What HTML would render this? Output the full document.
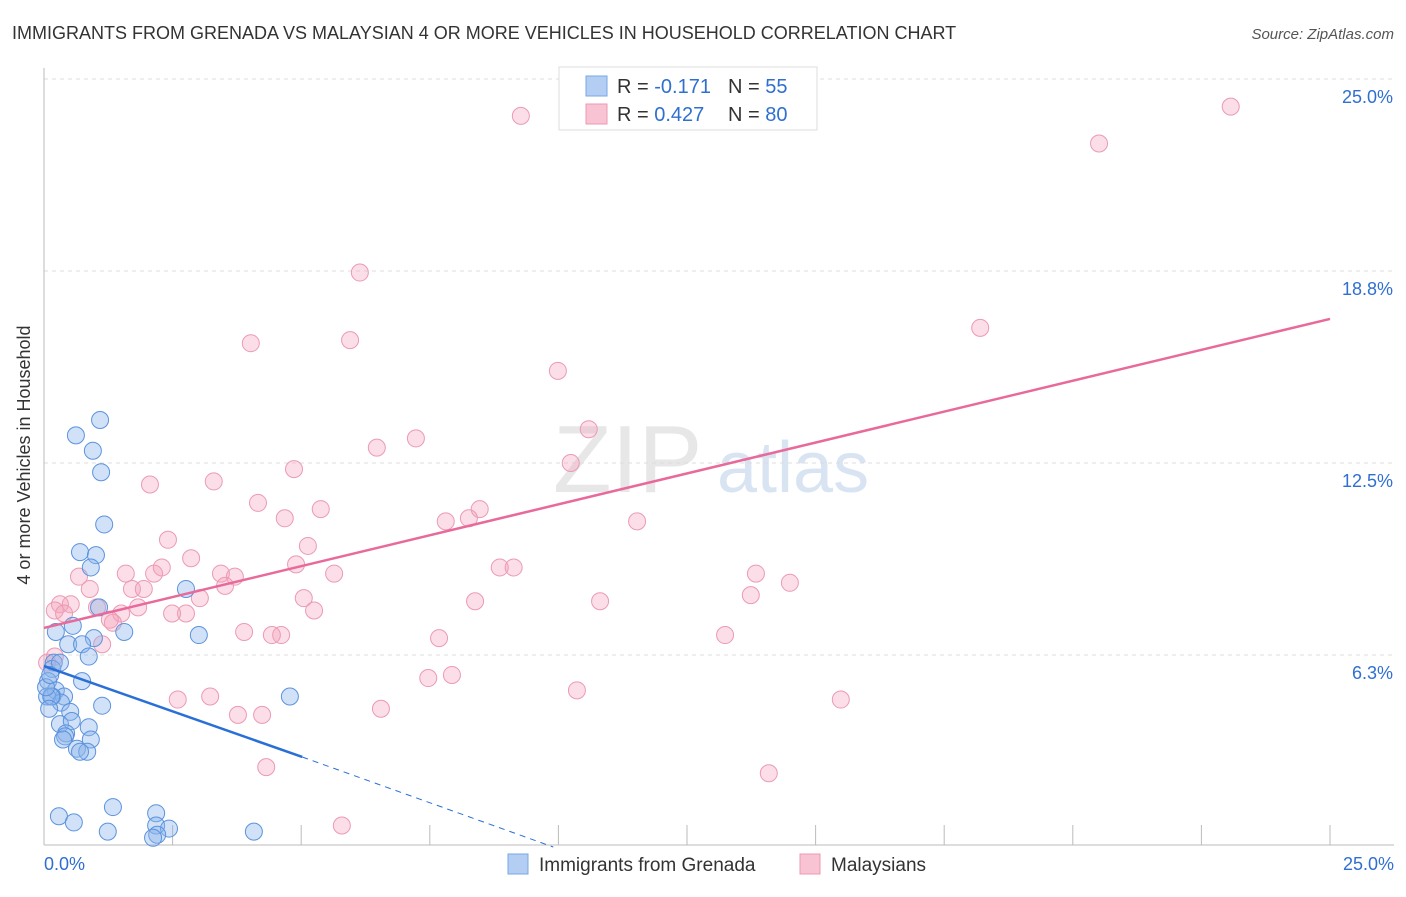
<!DOCTYPE html>
<html><head><meta charset="utf-8"><style>
body{margin:0;background:#fff;font-family:"Liberation Sans",sans-serif;}
svg text{font-family:"Liberation Sans",sans-serif;}
</style></head><body>
<svg id="c" width="1406" height="892">
<text x="12" y="39" font-size="18" fill="#333">IMMIGRANTS FROM GRENADA VS MALAYSIAN 4 OR MORE VEHICLES IN HOUSEHOLD CORRELATION CHART</text>
<text x="1394" y="39" font-size="15" fill="#555" font-style="italic" text-anchor="end">Source: ZipAtlas.com</text>
<text x="30" y="455" font-size="18" fill="#333" text-anchor="middle" transform="rotate(-90 30 455)">4 or more Vehicles in Household</text>
<g><text x="553" y="492" font-size="96" fill="#ddd" font-family="Liberation Serif" opacity="0.7">ZIP</text><text x="717" y="492" font-size="72" fill="#c9d9ee" opacity="0.7">atlas</text></g>
<g id="grid"></g><g id="marks"></g>
<g>
<rect x="559" y="67" width="258" height="63" fill="#fff" stroke="#ddd"/>
<rect x="586" y="76" width="21" height="20" fill="#b3cdf3" stroke="#7aa6e6"/>
<rect x="586" y="104" width="21" height="20" fill="#f8c3d3" stroke="#ee9ab3"/>
<text x="617" y="93" font-size="20" fill="#333">R = <tspan fill="#2f6fd0">-0.171</tspan></text>
<text x="728" y="93" font-size="20" fill="#333">N = <tspan fill="#2f6fd0">55</tspan></text>
<text x="617" y="121" font-size="20" fill="#333">R = <tspan fill="#2f6fd0">0.427</tspan></text>
<text x="728" y="121" font-size="20" fill="#333">N = <tspan fill="#2f6fd0">80</tspan></text>
</g>
<g>
<rect x="508" y="854" width="20" height="20" fill="#b3cdf3" stroke="#7aa6e6"/>
<text x="539" y="871" font-size="19" fill="#333">Immigrants from Grenada</text>
<rect x="800" y="854" width="20" height="20" fill="#f8c3d3" stroke="#ee9ab3"/>
<text x="831" y="871" font-size="19" fill="#333">Malaysians</text>
</g>
</svg>
<script>
const yTicks=[6.25,12.5,18.75,25];
const yTickLabels=["6.3%","12.5%","18.8%","25.0%"];
const xTicks=[2.5,5,7.5,10,12.5,15,17.5,20,22.5,25];
const blueX=[1.09,0.62,0.95,1.11,1.17,0.70,1.01,0.91,1.07,2.76,1.56,3.01,0.23,0.56,0.97,0.47,0.74,0.87,0.19,0.16,0.74,0.08,0.23,0.39,0.16,0.06,0.33,0.51,1.13,4.78,0.31,0.54,0.87,0.43,0.41,0.37,0.91,0.64,0.84,0.70,1.34,2.18,0.29,0.58,1.24,2.18,2.43,2.20,2.12,4.08,0.14,0.04,0.12,0.31,0.10];
const blueY=[13.9,13.4,12.9,12.2,10.5,9.6,9.5,9.1,7.8,8.4,7.0,6.9,7.0,7.2,6.8,6.6,6.6,6.2,6.0,5.8,5.4,5.4,5.1,4.9,4.9,4.9,4.7,4.4,4.6,4.9,4.0,4.1,3.9,3.7,3.6,3.5,3.5,3.2,3.1,3.1,1.3,1.1,1.0,0.8,0.5,0.7,0.6,0.4,0.3,0.5,4.9,5.2,5.6,6.0,4.5];
const pinkX=[9.27,23.07,20.51,6.14,18.20,4.02,5.95,9.99,7.23,6.47,10.59,10.24,4.86,3.30,2.06,4.16,5.38,4.68,8.47,8.26,7.81,11.53,2.41,5.13,2.86,4.90,8.86,9.13,1.59,2.14,2.29,3.44,5.64,3.71,13.84,14.50,0.68,0.89,1.71,3.52,1.94,3.03,5.05,8.38,10.81,13.74,0.31,0.52,1.03,1.83,1.50,5.25,2.76,2.49,0.21,0.39,1.34,3.89,4.61,4.43,7.68,13.24,1.13,0.21,2.60,3.23,7.47,7.93,10.36,15.49,6.55,3.77,4.24,4.32,14.09,5.79,1.28,0.06];
const pinkY=[23.8,24.1,22.9,18.7,16.9,16.4,16.5,15.5,13.3,13.0,13.6,12.5,12.3,11.9,11.8,11.2,11.0,10.7,11.0,10.7,10.6,10.6,10.0,9.8,9.4,9.2,9.1,9.1,8.9,8.9,9.1,8.9,8.9,8.8,8.9,8.6,8.8,8.4,8.4,8.5,8.4,8.1,8.1,8.0,8.0,8.2,7.9,7.9,7.8,7.8,7.6,7.7,7.6,7.6,7.7,7.6,7.3,7.0,6.9,6.9,6.8,6.9,6.6,6.2,4.8,4.9,5.5,5.6,5.1,4.8,4.5,4.3,4.3,2.6,2.4,0.7,7.4,6.0];
const blueLine=[0,5.89,5.02,2.93,9.9,0.0];
const pinkLine=[0,7.13,25,17.19];
const X0=44,X1=1330,Y0=847,Y1=79;
const sx=v=>X0+(v/25)*(X1-X0), sy=v=>Y0-(v/25)*(Y0-Y1);
const NS="http://www.w3.org/2000/svg";
function mk(t,a,p){const e=document.createElementNS(NS,t);for(const k in a)e.setAttribute(k,a[k]);p.appendChild(e);return e;}
const g=document.getElementById('grid'),m=document.getElementById('marks');
yTicks.forEach((t,i)=>{
 const l=mk('line',{x1:X0,x2:1394,y1:sy(t),y2:sy(t),stroke:'#ddd','stroke-dasharray':'4,4'},g);
 
 
 const tx=mk('text',{x:1393,y:sy(t)+24,'font-size':18,fill:'#2f6fd0','text-anchor':'end'},g);
 tx.textContent=yTickLabels[i];
 
 
});
mk('line',{x1:X0,x2:X0,y1:68,y2:845,stroke:'#bbb'},g);
mk('line',{x1:X0,x2:1394,y1:845,y2:845,stroke:'#bbb'},g);
xTicks.forEach(t=>{const l=mk('line',{x1:sx(t),x2:sx(t),y1:825,y2:845,stroke:'#bbb'},g);
 
 });
const xl=mk('text',{x:44,y:870,'font-size':18,fill:'#2f6fd0'},g);xl.textContent='0.0%';


const xr=mk('text',{x:1394,y:870,'font-size':18,fill:'#2f6fd0','text-anchor':'end'},g);xr.textContent='25.0%';


pinkX.forEach((x,i)=>{const c=mk('circle',{cx:sx(x),cy:sy(pinkY[i]),r:8.5,fill:'rgba(244,160,185,0.35)',stroke:'#ec9ab4','stroke-width':1},m);
 
 });
blueX.forEach((x,i)=>{const c=mk('circle',{cx:sx(x),cy:sy(blueY[i]),r:8.5,fill:'rgba(140,180,235,0.4)',stroke:'#5b93de','stroke-width':1},m);
 
 });
const pl=mk('line',{x1:sx(pinkLine[0]),y1:sy(pinkLine[1]),x2:sx(pinkLine[2]),y2:sy(pinkLine[3]),stroke:'#e8699a','stroke-width':2.5},m);


const bl=mk('line',{x1:sx(blueLine[0]),y1:sy(blueLine[1]),x2:sx(blueLine[2]),y2:sy(blueLine[3]),stroke:'#2a6fd6','stroke-width':2.5},m);


const bd=mk('line',{x1:sx(blueLine[2]),y1:sy(blueLine[3]),x2:sx(blueLine[4]),y2:sy(blueLine[5]),stroke:'#2a6fd6','stroke-width':1,'stroke-dasharray':'6,5'},m);


</script>
</body></html>
